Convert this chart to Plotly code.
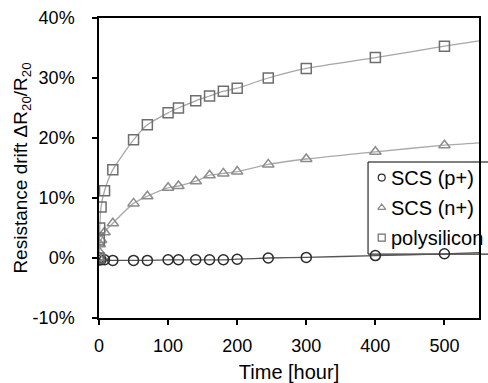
import plotly.graph_objects as go

# ---- data ----
time_h = [0, 0.5, 1, 3, 8, 20, 50, 70, 100, 115, 140, 160, 180, 200, 245, 300, 400, 500]
scs_p = [0.0, -0.2, -0.3, -0.3, -0.3, -0.4, -0.4, -0.4, -0.3, -0.3, -0.3, -0.3, -0.3, -0.2, 0.0, 0.1, 0.4, 0.7]
scs_n = [0.0, 1.0, 2.3, 3.0, 4.3, 5.8, 9.1, 10.3, 11.7, 12.0, 12.8, 13.8, 14.1, 14.4, 15.6, 16.5, 17.7, 18.8]
poly = [0.0, 3.0, 5.0, 8.5, 11.2, 14.7, 19.7, 22.2, 24.2, 25.0, 26.2, 27.0, 27.8, 28.3, 30.0, 31.6, 33.4, 35.3]

# trend-line end values at the right edge of the axis
trend_end_x = 550
trend_end = {"p": 0.9, "n": 19.2, "poly": 36.2}

series_names = ["SCS (p+)", "SCS (n+)", "polysilicon"]

x_ticks = [0, 100, 200, 300, 400, 500]
y_ticks = [-10, 0, 10, 20, 30, 40]
y_tick_labels = ["-10%", "0%", "10%", "20%", "30%", "40%"]

# ---- styling / layout constants ----
FONT = "Liberation Sans, Arial, sans-serif"
styles = {
    "p": dict(symbol="circle-open", mcol="#2a2a2a", lcol="#555555"),
    "n": dict(symbol="triangle-up-open", mcol="#8c8c8c", lcol="#aaaaaa"),
    "poly": dict(symbol="square-open", mcol="#6e6e6e", lcol="#a6a6a6"),
}
series = [("p", scs_p), ("n", scs_n), ("poly", poly)]

# legend box geometry (fractions of the plot area)
LEG_X0, LEG_X1, LEG_Y0, LEG_Y1 = 0.708, 1.10, 0.213, 0.52
LEG_SYM_X, LEG_TXT_X = 0.744, 0.762
LEG_ROWS = [0.468, 0.368, 0.268]

fig = go.Figure()

# trend lines
for key, vals in series:
    st = styles[key]
    fig.add_trace(go.Scatter(
        x=time_h + [trend_end_x], y=vals + [trend_end[key]],
        mode="lines", line=dict(color=st["lcol"], width=1.3, shape="spline", smoothing=0.6),
        showlegend=False, hoverinfo="skip"))

# markers
for (key, vals), name in zip(series, series_names):
    st = styles[key]
    fig.add_trace(go.Scatter(
        x=time_h, y=vals, mode="markers", name=name,
        marker=dict(symbol=st["symbol"], size=10, color=st["mcol"],
                    line=dict(width=1.5, color=st["mcol"])),
        showlegend=False))

# legend symbols, drawn on an overlay axis spanning the plot area
for (key, vals), yrow in zip(series, LEG_ROWS):
    st = styles[key]
    fig.add_trace(go.Scatter(
        x=[LEG_SYM_X], y=[yrow], xaxis="x2", yaxis="y2", mode="markers",
        marker=dict(symbol=st["symbol"], size=7, color=st["mcol"],
                    line=dict(width=1.2, color=st["mcol"])),
        showlegend=False, hoverinfo="skip", cliponaxis=False))

# legend box + labels
fig.add_shape(type="rect", xref="paper", yref="paper",
              x0=LEG_X0, x1=LEG_X1, y0=LEG_Y0, y1=LEG_Y1,
              line=dict(color="black", width=1), fillcolor="white", layer="below")
for name, yrow in zip(series_names, LEG_ROWS):
    fig.add_annotation(x=LEG_TXT_X, y=yrow, xref="paper", yref="paper",
                       text=name, showarrow=False, xanchor="left", yanchor="middle",
                       font=dict(family=FONT, size=20, color="black"))

fig.update_layout(
    width=488, height=383,
    margin=dict(l=99, r=9, t=18, b=65, autoexpand=False),
    paper_bgcolor="white", plot_bgcolor="white",
    font=dict(family=FONT, size=18, color="black"),
    showlegend=False,
    xaxis=dict(
        range=[0, 550], tickvals=x_ticks, ticks="outside", ticklen=5,
        tickwidth=1.5, tickcolor="black", automargin=False, ticklabelstandoff=6,
        showline=True, linecolor="black", linewidth=1.5, mirror=True,
        showgrid=False, zeroline=False,
        tickfont=dict(family=FONT, size=18),
        title=dict(text="Time [hour]", font=dict(family=FONT, size=20), standoff=12),
    ),
    yaxis=dict(
        range=[-10, 40], tickvals=y_ticks, ticktext=y_tick_labels,
        ticks="outside", ticklen=5, tickwidth=1.5, tickcolor="black", automargin=False,
        ticklabelstandoff=14,
        showline=True, linecolor="black", linewidth=1.5, mirror=True,
        showgrid=False, zeroline=False,
        tickfont=dict(family=FONT, size=18),
        title=dict(text="Resistance drift ΔR<sub>20</sub>/R<sub>20</sub>",
                   font=dict(family=FONT, size=19), standoff=0),
    ),
    xaxis2=dict(overlaying="x", range=[0, 1], visible=False, fixedrange=True),
    yaxis2=dict(overlaying="y", range=[0, 1], visible=False, fixedrange=True),
)

fig.write_html("out.html", config={"responsive": False, "displayModeBar": False})

# remove default page margins so the figure sits at the window origin
with open("out.html", "r", encoding="utf-8") as f:
    html = f.read()
html = html.replace("<body>", '<body style="margin:0;padding:0;overflow:hidden">', 1)
with open("out.html", "w", encoding="utf-8") as f:
    f.write(html)
